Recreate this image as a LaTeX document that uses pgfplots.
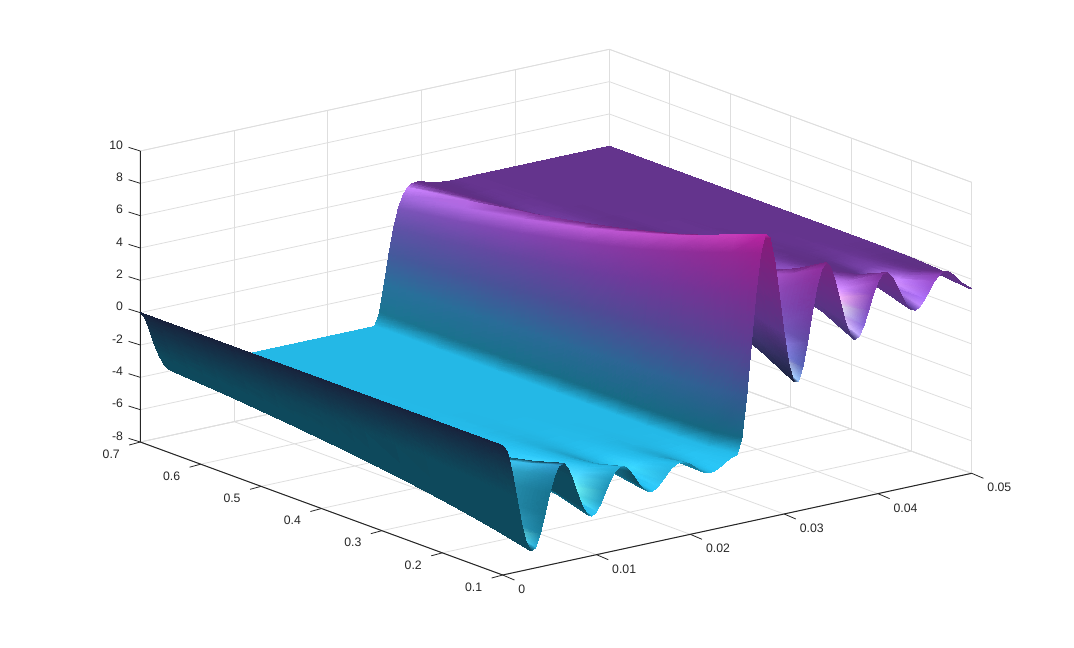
\documentclass[border=0pt]{standalone}
\usepackage{fontspec}
\setmainfont{Liberation Sans}
\usepackage{pgfplots}
\usepackage{pgfplotstable}
\pgfplotsset{compat=1.18}
\pgfplotstableread{
x a b c d e f g h i j
0 0 0 0 0 0 0 0 0 0 0
0.0005 -0.47 -0.47 -0.46 -0.45 -0.44 -0.44 -0.43 -0.42 -0.41 -0.39
0.001 -1.72 -1.67 -1.62 -1.57 -1.53 -1.48 -1.44 -1.36 -1.29 -1.22
0.0015 -3.39 -3.24 -3.10 -2.97 -2.85 -2.74 -2.63 -2.44 -2.27 -2.13
0.002 -5.03 -4.76 -4.51 -4.28 -4.07 -3.88 -3.71 -3.40 -3.13 -2.90
0.0025 -6.28 -5.90 -5.55 -5.24 -4.97 -4.72 -4.49 -4.09 -3.76 -3.48
0.003 -6.88 -6.44 -6.06 -5.72 -5.42 -5.15 -4.91 -4.50 -4.15 -3.86
0.0035 -6.75 -6.36 -6.02 -5.72 -5.46 -5.22 -5.01 -4.65 -4.34 -4.07
0.004 -5.99 -5.75 -5.54 -5.35 -5.18 -5.02 -4.88 -4.61 -4.38 -4.17
0.0045 -4.84 -4.83 -4.80 -4.77 -4.72 -4.67 -4.61 -4.47 -4.33 -4.18
0.005 -3.61 -3.85 -4.02 -4.15 -4.23 -4.28 -4.30 -4.30 -4.24 -4.16
0.0055 -2.58 -3.04 -3.38 -3.63 -3.82 -3.95 -4.04 -4.13 -4.15 -4.12
0.006 -1.98 -2.56 -2.99 -3.31 -3.55 -3.73 -3.85 -4.01 -4.07 -4.08
0.0065 -1.91 -2.47 -2.89 -3.21 -3.45 -3.63 -3.76 -3.93 -4.02 -4.04
0.007 -2.33 -2.75 -3.06 -3.30 -3.49 -3.63 -3.74 -3.90 -3.98 -4.02
0.0075 -3.10 -3.27 -3.41 -3.53 -3.63 -3.71 -3.79 -3.90 -3.97 -4.00
0.008 -4.01 -3.88 -3.82 -3.80 -3.81 -3.83 -3.86 -3.92 -3.96 -4.00
0.0085 -4.83 -4.44 -4.20 -4.06 -3.98 -3.95 -3.93 -3.94 -3.97 -3.99
0.009 -5.38 -4.82 -4.47 -4.25 -4.12 -4.04 -4.00 -3.97 -3.98 -3.99
0.0095 -5.55 -4.96 -4.58 -4.34 -4.19 -4.10 -4.04 -3.99 -3.99 -3.99
0.01 -5.35 -4.86 -4.54 -4.34 -4.20 -4.12 -4.06 -4.01 -3.99 -4
0.0105 -4.85 -4.58 -4.39 -4.26 -4.17 -4.11 -4.06 -4.02 -4 -4
0.011 -4.20 -4.21 -4.18 -4.15 -4.11 -4.08 -4.05 -4.02 -4 -4
0.0115 -3.57 -3.84 -3.97 -4.03 -4.04 -4.04 -4.03 -4.01 -4 -4
0.012 -3.10 -3.56 -3.80 -3.93 -3.98 -4.01 -4.01 -4.01 -4 -4
0.0125 -2.88 -3.42 -3.71 -3.86 -3.94 -3.98 -4 -4.01 -4 -4
0.013 -2.94 -3.43 -3.70 -3.84 -3.92 -3.97 -3.99 -4 -4 -4
0.0135 -3.25 -3.57 -3.75 -3.86 -3.93 -3.96 -3.98 -4 -4 -4
0.014 -3.70 -3.79 -3.86 -3.91 -3.94 -3.97 -3.98 -4 -4 -4
0.0145 -4.18 -4.02 -3.97 -3.96 -3.97 -3.98 -3.99 -4 -4 -4
0.015 -4.57 -4.22 -4.07 -4.01 -3.99 -3.99 -3.99 -4 -4 -4
0.0155 -4.79 -4.34 -4.14 -4.05 -4.01 -4 -4 -4 -4 -4
0.016 -4.81 -4.37 -4.16 -4.07 -4.03 -4.01 -4 -4 -4 -4
0.0165 -4.63 -4.31 -4.15 -4.07 -4.03 -4.01 -4 -4 -4 -4
0.017 -4.33 -4.18 -4.10 -4.05 -4.03 -4.01 -4 -4 -4 -4
0.0175 -3.98 -4.04 -4.04 -4.03 -4.02 -4.01 -4 -4 -4 -4
0.018 -3.66 -3.90 -3.98 -4 -4.01 -4.01 -4 -4 -4 -4
0.0185 -3.46 -3.81 -3.94 -3.98 -4 -4 -4 -4 -4 -4
0.019 -3.40 -3.77 -3.92 -3.97 -3.99 -4 -4 -4 -4 -4
0.0195 -3.49 -3.79 -3.92 -3.97 -3.99 -4 -4 -4 -4 -4
0.02 -3.68 -3.86 -3.94 -3.97 -3.99 -4 -4 -4 -4 -4
0.0205 -3.94 -3.94 -3.97 -3.98 -3.99 -4 -4 -4 -4 -4
0.021 -4.18 -4.03 -4 -3.99 -4 -4 -4 -4 -4 -4
0.0215 -4.36 -4.10 -4.02 -4 -4 -4 -4 -4 -4 -4
0.022 -4.44 -4.14 -4.04 -4.01 -4 -4 -4 -4 -4 -4
0.0225 -4.41 -4.14 -4.04 -4.01 -4 -4 -4 -4 -4 -4
0.023 -4.28 -4.11 -4.04 -4.01 -4 -4 -4 -4 -4 -4
0.0235 -4.11 -4.05 -4.03 -4.01 -4 -4 -4 -4 -4 -4
0.024 -3.92 -4 -4.01 -4.01 -4 -4 -4 -4 -4 -4
0.0245 -3.77 -3.95 -3.99 -4 -4 -4 -4 -4 -4 -4
0.025 -3.69 -3.92 -3.98 -4 -4 -4 -4 -4 -4 -4
0.0255 -2.74 -2.98 -3.06 -3.10 -3.11 -3.13 -3.14 -3.16 -3.19 -3.21
0.026 -0.31 -0.58 -0.74 -0.86 -0.95 -1.04 -1.12 -1.28 -1.42 -1.55
0.0265 2.89 2.52 2.21 1.94 1.70 1.48 1.27 0.88 0.55 0.25
0.027 6.05 5.53 5.02 4.57 4.15 3.77 3.42 2.79 2.26 1.81
0.0275 8.43 7.77 7.10 6.49 5.93 5.43 4.98 4.19 3.53 2.96
0.028 9.55 8.84 8.12 7.44 6.84 6.31 5.82 4.99 4.31 3.72
0.0285 9.27 8.66 8.04 7.44 6.92 6.45 6.03 5.29 4.68 4.15
0.029 7.79 7.45 7.08 6.70 6.36 6.04 5.75 5.22 4.76 4.33
0.0295 5.57 5.62 5.61 5.53 5.44 5.33 5.21 4.95 4.66 4.37
0.03 3.19 3.68 4.04 4.29 4.46 4.56 4.61 4.60 4.49 4.32
0.0305 1.23 2.08 2.76 3.26 3.63 3.90 4.08 4.27 4.30 4.24
0.031 0.10 1.14 1.98 2.62 3.10 3.45 3.71 4.02 4.14 4.16
0.0315 -0.01 0.98 1.79 2.42 2.90 3.25 3.52 3.86 4.03 4.09
0.032 0.82 1.53 2.13 2.61 2.98 3.27 3.49 3.79 3.96 4.04
0.0325 2.31 2.56 2.82 3.05 3.25 3.43 3.57 3.79 3.93 4.01
0.033 4.06 3.78 3.65 3.61 3.62 3.66 3.71 3.83 3.93 3.99
0.0335 5.62 4.87 4.40 4.12 3.97 3.89 3.87 3.89 3.94 3.98
0.034 6.66 5.63 4.93 4.50 4.23 4.08 4 3.94 3.96 3.98
0.0345 6.98 5.91 5.16 4.68 4.38 4.20 4.08 3.99 3.97 3.99
0.035 6.58 5.72 5.09 4.68 4.41 4.24 4.13 4.02 3.99 3.99
0.0355 5.61 5.16 4.79 4.53 4.34 4.22 4.13 4.03 4 4
0.036 4.36 4.42 4.37 4.30 4.22 4.16 4.10 4.03 4 4
0.0365 3.14 3.68 3.94 4.05 4.09 4.08 4.07 4.03 4 4
0.037 2.25 3.12 3.61 3.85 3.97 4.01 4.03 4.02 4 4
0.0375 1.84 2.84 3.42 3.73 3.88 3.96 4 4.01 4 4
0.038 1.98 2.86 3.39 3.69 3.85 3.93 3.98 4 4 4
0.0385 2.57 3.14 3.51 3.73 3.85 3.93 3.97 4 4 4
0.039 3.44 3.57 3.71 3.82 3.89 3.94 3.97 4 4 4
0.0395 4.36 4.04 3.94 3.92 3.94 3.96 3.97 4 4 4
0.04 5.11 4.44 4.14 4.03 3.99 3.98 3.98 4 4 4
0.0405 5.53 4.68 4.28 4.10 4.03 4 3.99 4 4 4
0.041 5.55 4.73 4.32 4.13 4.05 4.01 4 4 4 4
0.0415 5.21 4.61 4.29 4.13 4.06 4.02 4.01 4 4 4
0.042 4.62 4.37 4.20 4.10 4.05 4.02 4.01 4 4 4
0.0425 3.94 4.07 4.08 4.06 4.03 4.02 4 4 4 4
0.043 3.34 3.81 3.97 4.01 4.02 4.01 4 4 4 4
0.0435 2.95 3.62 3.88 3.97 4 4 4 4 4 4
0.044 2.85 3.54 3.83 3.95 3.99 4 4 4 4 4
0.0445 3.02 3.58 3.83 3.94 3.98 4 4 4 4 4
0.045 3.40 3.71 3.87 3.95 3.98 4 4 4 4 4
0.0455 3.89 3.89 3.93 3.96 3.98 4 4 4 4 4
0.046 4.36 4.07 3.99 3.99 3.99 4 4 4 4 4
0.0465 4.70 4.20 4.05 4.01 4 4 4 4 4 4
0.047 4.84 4.28 4.08 4.02 4 4 4 4 4 4
0.0475 4.78 4.28 4.09 4.03 4 4 4 4 4 4
0.048 4.54 4.21 4.08 4.03 4 4 4 4 4 4
0.0485 4.20 4.11 4.05 4.02 4 4 4 4 4 4
0.049 3.84 4 4.02 4.01 4 4 4 4 4 4
0.0495 3.56 3.90 3.99 4 4 4 4 4 4 4
0.05 3.40 3.84 3.96 3.99 4 4 4 4 4 4
}\wide
% y grid
\def\Yv#1{\csname Y#1\endcsname}
\expandafter\def\csname Y0\endcsname{0.1}
\expandafter\def\csname Y1\endcsname{0.15}
\expandafter\def\csname Y2\endcsname{0.2}
\expandafter\def\csname Y3\endcsname{0.25}
\expandafter\def\csname Y4\endcsname{0.3}
\expandafter\def\csname Y5\endcsname{0.35}
\expandafter\def\csname Y6\endcsname{0.4}
\expandafter\def\csname Y7\endcsname{0.5}
\expandafter\def\csname Y8\endcsname{0.6}
\expandafter\def\csname Y9\endcsname{0.7}
\newcount\myrow
\foreach \c/\k in {a/0,b/1,c/2,d/3,e/4,f/5,g/6,h/7,i/8,j/9}{%
  \global\myrow=0
  \pgfplotstableforeachcolumnelement{\c}\of\wide\as\cell{%
    \expandafter\xdef\csname Z\k:\the\myrow\endcsname{\cell}%
    \global\advance\myrow by 1 }%
}
\global\myrow=0
\pgfplotstableforeachcolumnelement{x}\of\wide\as\cell{%
  \expandafter\xdef\csname X\the\myrow\endcsname{\cell}%
  \global\advance\myrow by 1 }
\def\Zv#1#2{\csname Z#1:#2\endcsname}
% shading of each vertex, from the local gradient of the typed z values
\gdef\data{x y z R G B\\}
\begingroup
\let\\\relax
\foreach \k in {9,...,0}{%
 \foreach \i in {100,...,0}{%
  \pgfmathtruncatemacro\ip{min(\i+1,100)}%
  \ifnum\i=50 \def\ip{50}\fi
  \pgfmathtruncatemacro\im{max(\i-1,0)}%
  \pgfmathtruncatemacro\kp{min(\k+1,9)}%
  \pgfmathtruncatemacro\km{max(\k-1,0)}%
  \edef\zz{\Zv{\k}{\i}}%
  \pgfmathsetmacro\gu{(\Zv{\k}{\ip}-(\Zv{\k}{\im}))/((\ip-\im)*0.01)/18*0.51}%
  \pgfmathsetmacro\gv{(\Zv{\kp}{\i}-(\Zv{\km}{\i}))/((\Yv{\kp}-\Yv{\km})/0.6)/18*0.51}%
  \pgfmathsetmacro\dd{sqrt(1+\gu*\gu+\gv*\gv)}%
  \pgfmathsetmacro\nl{(0.5*\gu+0.55*\gv+0.52)/\dd}%
  \pgfmathsetmacro\nc{(0.3*\gu+0.3*\gv+0.9)/\dd}%
  \pgfmathsetmacro\nh{max((0.62*\gu+0.4*\gv+0.66)/\dd,0.01)}%
  \pgfmathsetmacro\nq{max((0.6*\gu+0.5*\gv+0.62)/\dd,0.01)}%
  \pgfmathsetmacro\cb{max(0,min(1,(\zz+3)/3))}%
  \pgfmathsetmacro\cc{max(0,min(1,\zz/4))}%
  \pgfmathsetmacro\cd{max(0,min(1,(\zz-4)/5.6))}%
  \pgfmathsetmacro\ce{max(0,min(1,\zz/3))}%
  \pgfmathsetmacro\fp{max(0.45+0.5*\ce,0.40+1.06*\nl+0.9*pow(\nq,6))}%
  \pgfmathsetmacro\fc{(\i<16)&&(\gu<-0.03)?0.4:max(0.4,0.03+1.08*\nc)}%
  \pgfmathsetmacro\fac{\fc+(\fp-\fc)*\cb}%
  \pgfmathsetmacro\spc{(\k==0?0.15:1)*(1.1+0.9*\cb)*pow(\nh,16)}%
  \pgfmathsetmacro\RR{min(1,(0.14+0.07*\cb+0.18*\cc+0.19*\cd)*\fac+\spc)}%
  \pgfmathsetmacro\GG{min(1,(0.72-0.42*\cb-0.10*\cc-0.10*\cd)*\fac+\spc)}%
  \pgfmathsetmacro\BB{min(1,(0.90-0.38*\cb+0.03*\cc-0.05*\cd)*\fac+\spc)}%
  \xdef\data{\data \csname X\i\endcsname\space \Yv{\k} \zz\space \RR\space \GG\space \BB\\}%
 }%
}
\endgroup
\def\rd#1{\pgfplotstableread[row sep=\\]{#1}\tbl}
\expandafter\rd\expandafter{\data}
\definecolor{axdark}{gray}{0.15}
\definecolor{gridc}{gray}{0.87}
\begin{document}
\begin{tikzpicture}
\begin{axis}[
  x={(7035pt,1525.5pt)}, y={(-453pt,166.25pt)}, z={(0pt,12.125pt)},
  xmin=0,xmax=0.05,ymin=0.1,ymax=0.7,zmin=-8,zmax=10,
  scaled x ticks=false, scaled y ticks=false, scaled z ticks=false,
  xtick={0,0.01,0.02,0.03,0.04,0.05},
  xticklabels={0,0.01,0.02,0.03,0.04,0.05},
  ytick={0.1,0.2,0.3,0.4,0.5,0.6,0.7},
  yticklabels={0.1,0.2,0.3,0.4,0.5,0.6,0.7},
  ztick={-8,-6,-4,-2,0,2,4,6,8,10},
  zticklabels={-8,-6,-4,-2,0,2,4,6,8,10},
  grid=major,
  grid style={gridc,line width=0.6pt},
  axis line style={gridc,line width=0.6pt},
  major tick length=0pt,
  tick style={draw=none},
  tick label style={font=\fontsize{9.2}{10}\selectfont,text=axdark,inner sep=0pt},
  x tick label style={anchor=west,xshift=11.6pt,yshift=-10.8pt},
  y tick label style={anchor=east,xshift=-15.2pt,yshift=-9pt},
  z tick label style={anchor=east,xshift=-12.75pt,yshift=4.5pt},
  tickpos=left,
  clip=false,
]
\coordinate (A) at (axis cs:0,0.1,-8);
\pgfplotsinvokeforeach{0,0.01,0.02,0.03,0.04,0.05}{
  \draw[axdark,line width=0.6pt] (axis cs:#1,0.1,-8)--++(8.8pt,-3.75pt);}
\pgfplotsinvokeforeach{0.1,0.2,0.3,0.4,0.5,0.6,0.7}{
  \draw[axdark,line width=0.6pt] (axis cs:0,#1,-8)--++(-8.3pt,-2.25pt);}
\pgfplotsinvokeforeach{-8,-6,-4,-2,0,2,4,6,8,10}{
  \draw[axdark,line width=0.6pt] (axis cs:0,0.7,#1)--++(-8.8pt,2.75pt);}
\draw[axdark,line width=0.75pt] (axis cs:0,0.1,-8)--(axis cs:0.05,0.1,-8);
\draw[axdark,line width=0.75pt] (axis cs:0,0.1,-8)--(axis cs:0,0.7,-8)--(axis cs:0,0.7,10);
\addplot3[surf,shader=interp,z buffer=none,mesh/rows=10,mesh/cols=101,
  mesh/color input=explicit mathparse,
  point meta={symbolic={\thisrow{R},\thisrow{G},\thisrow{B}}}]
  table[x=x,y=y,z=z]{\tbl};
\end{axis}
\pgfresetboundingbox
\path[use as bounding box] ([xshift=-377.025pt,yshift=-54pt]A) rectangle ([xshift=428.475pt,yshift=431.25pt]A);
\end{tikzpicture}
\end{document}
